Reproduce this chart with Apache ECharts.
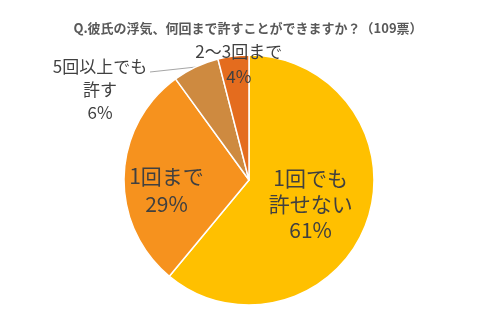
<!DOCTYPE html>
<html>
<head>
<meta charset="utf-8">
<script src="https://cdn.jsdelivr.net/npm/echarts@6/dist/echarts.min.js"></script>
<style>
  html, body { margin: 0; padding: 0; background: #fff; }
  #chart { width: 500px; height: 333px; }
</style>
</head>
<body>
<div id="chart"></div>
<script>
const titleText = 'Q.彼氏の浮気、何回まで許すことができますか？（109票）';
const categories = ['1回でも\n許せない', '1回まで', '5回以上でも\n許す', '2〜3回まで'];
const values = [61, 29, 6, 4];
const colors = ['#FFC000', '#F6921E', '#CE8A40', '#E46C1E'];

const FONT = '"Noto Sans CJK JP", "Noto Sans", sans-serif';

// per-slice label styling: big labels inside, small ones near the rim
const labelStyles = [
  { position: 'inside', fontSize: 21, lineHeight: 26, offset: [0, 2] },
  { position: 'inside', fontSize: 21, lineHeight: 28, offset: [-17, 12] },
  { position: 'outside', fontSize: 17, lineHeight: 23 },
  { position: 'inside', fontSize: 17, lineHeight: 25, offset: [-2, -51] }
];

const data = categories.map((name, i) => ({
  name: name,
  value: values[i],
  itemStyle: { color: colors[i] },
  label: Object.assign({
    show: true,
    color: '#404040',
    fontFamily: FONT,
    align: 'center',
    formatter: p => p.name + '\n' + p.value + '%'
  }, labelStyles[i]),
  labelLine: { show: i === 2, lineStyle: { color: '#A6A6A6', width: 1 } }
}));

const chart = echarts.init(document.getElementById('chart'), null, { renderer: 'canvas' });
chart.setOption({
  backgroundColor: '#ffffff',
  animation: false,
  title: {
    text: titleText,
    left: 243,
    top: 17,
    textAlign: 'center',
    textStyle: { fontFamily: FONT, fontSize: 13, fontWeight: 'bold', color: '#595959' }
  },
  series: [{
    type: 'pie',
    center: [249, 180],
    radius: [0, 125],
    startAngle: 90,
    clockwise: true,
    avoidLabelOverlap: false,
    itemStyle: { borderColor: '#ffffff', borderWidth: 1.5 },
    labelLayout: function (params) {
      if (params.dataIndex === 2) {
        return {
          x: 100,
          y: 90,
          align: 'center',
          verticalAlign: 'middle',
          labelLinePoints: [[196, 67], [173, 69.5], [150, 72]]
        };
      }
      return {};
    },
    data: data
  }]
});
</script>
</body>
</html>
